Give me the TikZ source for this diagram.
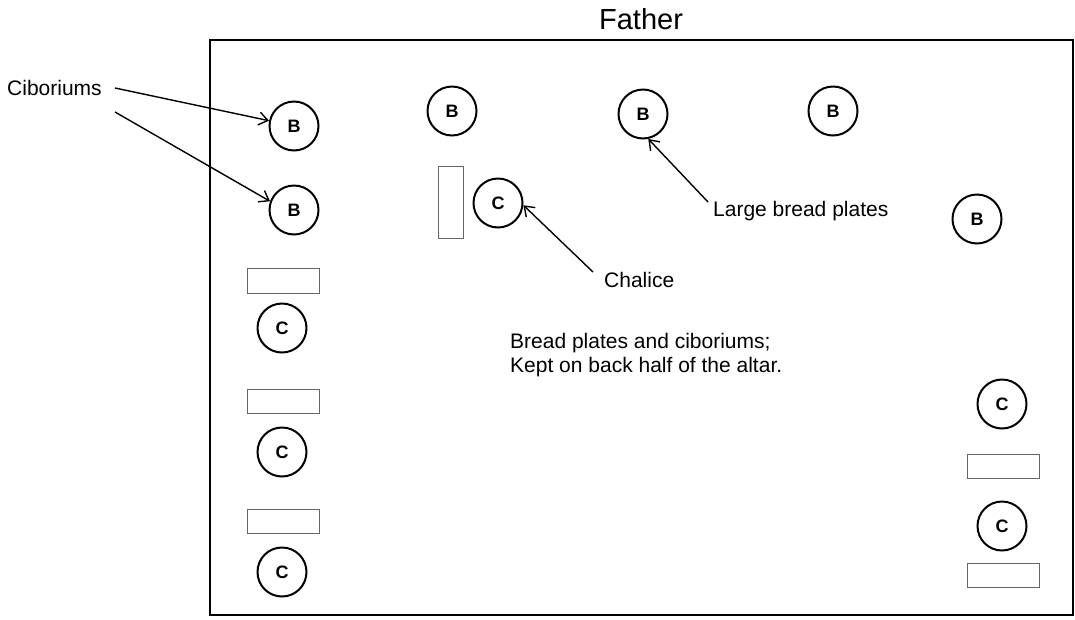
\documentclass[tikz,border=0pt]{standalone}
\usepackage{fontspec}
\setmainfont{Liberation Sans}
\usetikzlibrary{arrows.meta}
\tikzset{
  plate/.style={circle, draw=black, line width=2pt, minimum size=49pt, inner sep=0pt,
    font=\fontsize{18}{18}\selectfont\bfseries},
  tray/.style={draw=black!60, line width=1pt, inner sep=0pt},
  lbl/.style={font=\fontsize{21}{24}\selectfont, inner sep=0pt, align=left},
  pointer/.style={line width=1.4pt, -{Straight Barb[length=9pt,width=13pt,line width=1.4pt]}},
}
\begin{document}
\begin{tikzpicture}[x=1pt,y=-1pt]
\useasboundingbox (0,0) rectangle (1075,619);
% altar
\draw[line width=2.5pt] (210,40) rectangle (1073,615);
\node[font=\fontsize{29}{29}\selectfont, inner sep=0pt] (father) at (641,19) {Father};
% ciboriums
\node[plate] (cib1) at (294,126) {B};
\node[plate] (cib2) at (294,210) {B};
% large bread plates
\node[plate] (b1) at (452,111) {B};
\node[plate] (b2) at (643,114) {B};
\node[plate] (b3) at (833,111) {B};
\node[plate] (b4) at (977,219) {B};
% chalice
\node[tray, minimum width=25pt, minimum height=72pt] (chr) at (450.5,202) {};
\node[plate] (ch) at (498,203) {C};
% left column
\node[tray, minimum width=72pt, minimum height=25pt] (lr1) at (283,280.5) {};
\node[plate] (lc1) at (282,328) {C};
\node[tray, minimum width=72pt, minimum height=24pt] (lr2) at (283,401) {};
\node[plate] (lc2) at (282,452) {C};
\node[tray, minimum width=72pt, minimum height=24pt] (lr3) at (283,521) {};
\node[plate] (lc3) at (282,572) {C};
% right column
\node[plate] (rc1) at (1002,404) {C};
\node[tray, minimum width=72pt, minimum height=24pt] (rr1) at (1003,466) {};
\node[plate] (rc2) at (1002,526) {C};
\node[tray, minimum width=72pt, minimum height=24pt] (rr2) at (1003,575) {};
% labels
\node[lbl, anchor=west] (cibl) at (7,88) {Ciboriums};
\coordinate (cs1) at (115,88);
\coordinate (cs2) at (115,112);
\draw[pointer] (cs1) -- (cib1.168);
\draw[pointer] (cs2) -- (cib2.160);
\node[lbl, anchor=west] (lbp) at (713,211) {Large bread plates};
\coordinate (ls) at (708,202);
\draw[pointer] (ls) -- (b2.282);
\node[lbl, anchor=west] (chl) at (604,280) {Chalice};
\coordinate (chs) at (593,272);
\draw[pointer] (chs) -- (ch.355);
\node[lbl, anchor=west] (note) at (510,355) {Bread plates and ciboriums;\\Kept on back half of the altar.};
\end{tikzpicture}
\end{document}
